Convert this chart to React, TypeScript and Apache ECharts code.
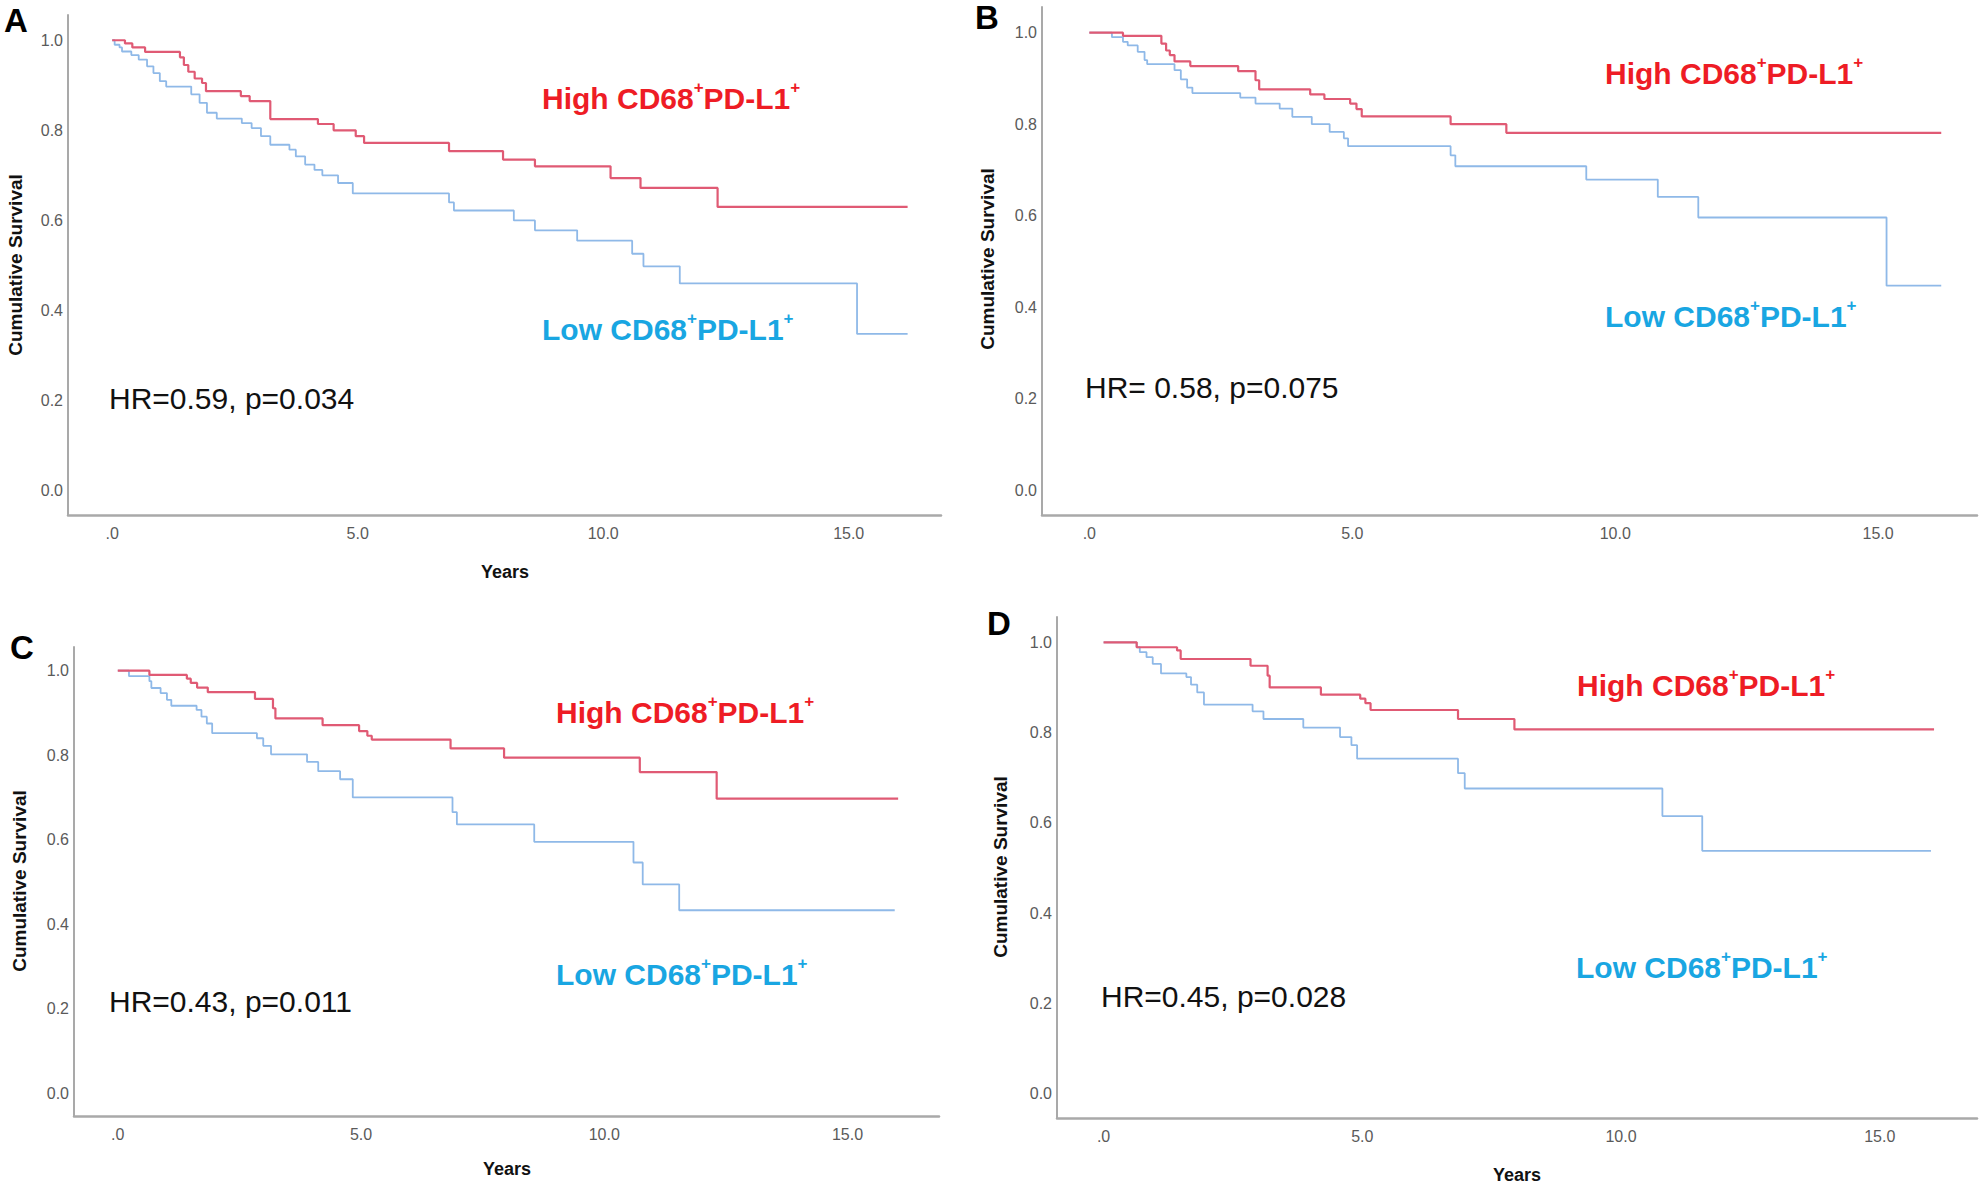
import React, { useEffect, useRef } from "react";
import * as echarts from "echarts";

// ---- Data (years, cumulative survival) ----
const aHighT = [0, 0.26, 0.41, 0.67, 1.38, 1.46, 1.55, 1.68, 1.83, 1.91, 2.62, 2.8, 3.22, 4.19, 4.51, 4.96, 5.13, 6.86, 7.96, 8.61, 10.15, 10.76, 12.33, 16.2];
const aHighS = [1.0, 0.993, 0.984, 0.974, 0.962, 0.945, 0.93, 0.915, 0.905, 0.887, 0.876, 0.865, 0.825, 0.814, 0.8, 0.787, 0.772, 0.754, 0.735, 0.72, 0.694, 0.672, 0.63, 0.63];
const aLowT = [0, 0.05, 0.15, 0.2, 0.39, 0.54, 0.71, 0.84, 0.97, 1.1, 1.61, 1.78, 1.93, 2.13, 2.64, 2.84, 3.03, 3.22, 3.61, 3.74, 3.93, 4.12, 4.28, 4.6, 4.9, 6.86, 6.96, 8.18, 8.61, 9.47, 10.59, 10.82, 11.56, 15.17, 16.2];
const aLowS = [1.0, 0.99, 0.984, 0.975, 0.967, 0.957, 0.942, 0.927, 0.909, 0.897, 0.88, 0.861, 0.839, 0.826, 0.816, 0.805, 0.787, 0.768, 0.757, 0.742, 0.724, 0.712, 0.7, 0.683, 0.66, 0.64, 0.622, 0.6, 0.578, 0.555, 0.526, 0.498, 0.46, 0.348, 0.348];

const bHighT = [0, 0.64, 1.37, 1.46, 1.53, 1.62, 1.92, 2.83, 3.16, 3.23, 4.2, 4.47, 4.96, 5.08, 5.18, 6.87, 7.93, 16.2];
const bHighS = [1.0, 0.993, 0.976, 0.961, 0.951, 0.937, 0.927, 0.916, 0.896, 0.876, 0.865, 0.855, 0.845, 0.833, 0.817, 0.8, 0.781, 0.781];
const bLowT = [0, 0.43, 0.64, 0.73, 0.92, 1.05, 1.1, 1.62, 1.74, 1.86, 1.96, 2.87, 3.16, 3.62, 3.86, 4.23, 4.57, 4.84, 4.92, 6.87, 6.96, 9.45, 10.81, 11.58, 15.16, 16.2];
const bLowS = [1.0, 0.99, 0.98, 0.972, 0.958, 0.94, 0.931, 0.918, 0.898, 0.88, 0.868, 0.858, 0.845, 0.834, 0.816, 0.8, 0.783, 0.769, 0.752, 0.732, 0.708, 0.679, 0.641, 0.596, 0.447, 0.447];

const cHighT = [0, 0.65, 1.42, 1.5, 1.63, 1.85, 2.82, 3.19, 3.24, 4.21, 4.96, 5.13, 5.22, 6.84, 7.94, 10.73, 12.31, 16.04];
const cHighS = [1.0, 0.99, 0.981, 0.971, 0.96, 0.949, 0.933, 0.911, 0.887, 0.871, 0.857, 0.846, 0.837, 0.816, 0.794, 0.76, 0.697, 0.697];
const cLowT = [0, 0.23, 0.65, 0.69, 0.88, 1.01, 1.1, 1.62, 1.72, 1.83, 1.94, 2.86, 2.99, 3.15, 3.89, 4.12, 4.57, 4.83, 6.88, 6.97, 8.56, 10.6, 10.79, 11.54, 15.97];
const cLowS = [1.0, 0.987, 0.975, 0.959, 0.947, 0.931, 0.917, 0.907, 0.891, 0.875, 0.852, 0.84, 0.822, 0.802, 0.784, 0.762, 0.743, 0.7, 0.665, 0.636, 0.595, 0.546, 0.494, 0.433, 0.433];

const dHighT = [0, 0.64, 1.42, 1.49, 2.84, 3.17, 3.21, 4.2, 4.96, 5.06, 5.16, 6.85, 7.94, 16.05];
const dHighS = [1.0, 0.989, 0.982, 0.963, 0.948, 0.926, 0.9, 0.884, 0.875, 0.865, 0.85, 0.83, 0.807, 0.807];
const dLowT = [0, 0.64, 0.7, 0.83, 0.95, 1.11, 1.6, 1.69, 1.81, 1.94, 2.88, 3.09, 3.86, 4.57, 4.79, 4.9, 6.85, 6.98, 10.8, 11.57, 15.99];
const dLowS = [1.0, 0.989, 0.978, 0.967, 0.952, 0.931, 0.923, 0.906, 0.889, 0.862, 0.847, 0.83, 0.811, 0.79, 0.772, 0.742, 0.71, 0.676, 0.615, 0.538, 0.538];

const xTicks = [0, 5, 10, 15];
const yTicks = [0, 0.2, 0.4, 0.6, 0.8, 1.0];
const panelLetters = ["A", "B", "C", "D"];
const hrTexts = ["HR=0.59, p=0.034", "HR= 0.58, p=0.075", "HR=0.43, p=0.011", "HR=0.45, p=0.028"];
const highLabel = ["High CD68", "+", "PD-L1", "+"];
const lowLabel = ["Low CD68", "+", "PD-L1", "+"];
const yTitle = "Cumulative Survival";
const xTitle = "Years";

const panelData = [
  { highT: aHighT, highS: aHighS, lowT: aLowT, lowS: aLowS },
  { highT: bHighT, highS: bHighS, lowT: bLowT, lowS: bLowS },
  { highT: cHighT, highS: cHighS, lowT: cLowT, lowS: cLowS },
  { highT: dHighT, highS: dHighS, lowT: dLowT, lowS: dLowS },
];

// ---- Layout (pixels) ----
const grids = [
  { left: 68, top: 15, width: 873, height: 500 },
  { left: 1042, top: 7, width: 935, height: 508 },
  { left: 74, top: 647, width: 865, height: 469 },
  { left: 1057, top: 617, width: 920, height: 501 },
];
const layout = [
  { letter: [16, 20], high: [542, 96], low: [542, 327], hr: [109, 398], ytitle: [15, 265], xtitle: [505, 572] },
  { letter: [987, 17], high: [1605, 71], low: [1605, 314], hr: [1085, 387], ytitle: [987, 259], xtitle: null },
  { letter: [22, 647], high: [556, 710], low: [556, 972], hr: [109, 1001], ytitle: [19, 881], xtitle: [507, 1169] },
  { letter: [999, 623], high: [1577, 683], low: [1576, 965], hr: [1101, 996], ytitle: [1000, 867], xtitle: [1517, 1175] },
];

const FONT = "'Liberation Sans', Arial, Helvetica, sans-serif";
const RED_LINE = "#e05a74";
const BLUE_LINE = "#8fb9e8";
const RED_TEXT = "#ee1c25";
const BLUE_TEXT = "#19a6e2";
const AXIS_COLOR = "#a9a9a9";

function labelText(parts: string[], x: number, y: number, color: string) {
  return {
    type: "text",
    x,
    y,
    silent: true,
    style: {
      text: `{m|${parts[0]}}{s|${parts[1]}}{m|${parts[2]}}{s|${parts[3]}}`,
      verticalAlign: "middle",
      align: "left",
      rich: {
        m: { fontSize: 30, fontWeight: "bold", fontFamily: FONT, fill: color, lineHeight: 34, verticalAlign: "bottom" },
        s: { fontSize: 17, fontWeight: "bold", fontFamily: FONT, fill: color, lineHeight: 17, verticalAlign: "top" },
      },
    },
  };
}

export default function App() {
  const ref = useRef<HTMLDivElement>(null);
  useEffect(() => {
    if (!ref.current) return;
    const chart = echarts.init(ref.current, undefined, { renderer: "svg" });

    const xAxis: any[] = [];
    const yAxis: any[] = [];
    const series: any[] = [];
    const graphic: any[] = [];

    grids.forEach((g, i) => {
      xAxis.push({
        type: "value",
        gridIndex: i,
        min: -0.9,
        max: 16.88,
        axisLine: { show: true, onZero: false, lineStyle: { color: AXIS_COLOR, width: 2.5 } },
        axisTick: { show: false },
        splitLine: { show: false },
        axisLabel: {
          customValues: xTicks,
          margin: 10,
          fontSize: 16,
          fontFamily: FONT,
          color: "#5a5a5a",
          formatter: (v: number) => (v === 0 ? ".0" : v.toFixed(1)),
        },
      });
      yAxis.push({
        type: "value",
        gridIndex: i,
        min: -0.054,
        max: 1.056,
        axisLine: { show: true, onZero: false, lineStyle: { color: AXIS_COLOR, width: 2 } },
        axisTick: { show: false },
        splitLine: { show: false },
        axisLabel: {
          customValues: yTicks,
          margin: 5,
          fontSize: 16,
          fontFamily: FONT,
          color: "#5a5a5a",
          padding: [7, 0, 0, 0],
          formatter: (v: number) => v.toFixed(1),
        },
      });
      const d = panelData[i];
      series.push({
        type: "line",
        xAxisIndex: i,
        yAxisIndex: i,
        step: "end",
        symbol: "none",
        silent: true,
        lineStyle: { color: BLUE_LINE, width: 1.8 },
        data: d.lowT.map((t, k) => [t, d.lowS[k]]),
      });
      series.push({
        type: "line",
        xAxisIndex: i,
        yAxisIndex: i,
        step: "end",
        symbol: "none",
        silent: true,
        lineStyle: { color: RED_LINE, width: 2.2 },
        data: d.highT.map((t, k) => [t, d.highS[k]]),
      });

      const L = layout[i];
      graphic.push({
        type: "text",
        x: L.letter[0],
        y: L.letter[1],
        silent: true,
        style: { text: panelLetters[i], fontSize: 33, fontWeight: "bold", fontFamily: FONT, fill: "#000", align: "center", verticalAlign: "middle" },
      });
      graphic.push(labelText(highLabel, L.high[0], L.high[1], RED_TEXT));
      graphic.push(labelText(lowLabel, L.low[0], L.low[1], BLUE_TEXT));
      graphic.push({
        type: "text",
        x: L.hr[0],
        y: L.hr[1],
        silent: true,
        style: { text: hrTexts[i], fontSize: 30, fontFamily: FONT, fill: "#111", align: "left", verticalAlign: "middle" },
      });
      graphic.push({
        type: "text",
        x: L.ytitle[0],
        y: L.ytitle[1],
        rotation: Math.PI / 2,
        silent: true,
        style: { text: yTitle, fontSize: 19, fontWeight: "bold", fontFamily: FONT, fill: "#111", align: "center", verticalAlign: "middle" },
      });
      if (L.xtitle) {
        graphic.push({
          type: "text",
          x: L.xtitle[0],
          y: L.xtitle[1],
          silent: true,
          style: { text: xTitle, fontSize: 18, fontWeight: "bold", fontFamily: FONT, fill: "#111", align: "center", verticalAlign: "middle" },
        });
      }
    });

    chart.setOption({
      animation: false,
      backgroundColor: "#ffffff",
      grid: grids.map((g) => ({ ...g, containLabel: false })),
      xAxis,
      yAxis,
      series,
      graphic,
    });
    return () => chart.dispose();
  }, []);

  return (
    <div
      ref={ref}
      style={{ position: "absolute", left: 0, top: 0, width: 1982, height: 1188, background: "#fff" }}
    />
  );
}
